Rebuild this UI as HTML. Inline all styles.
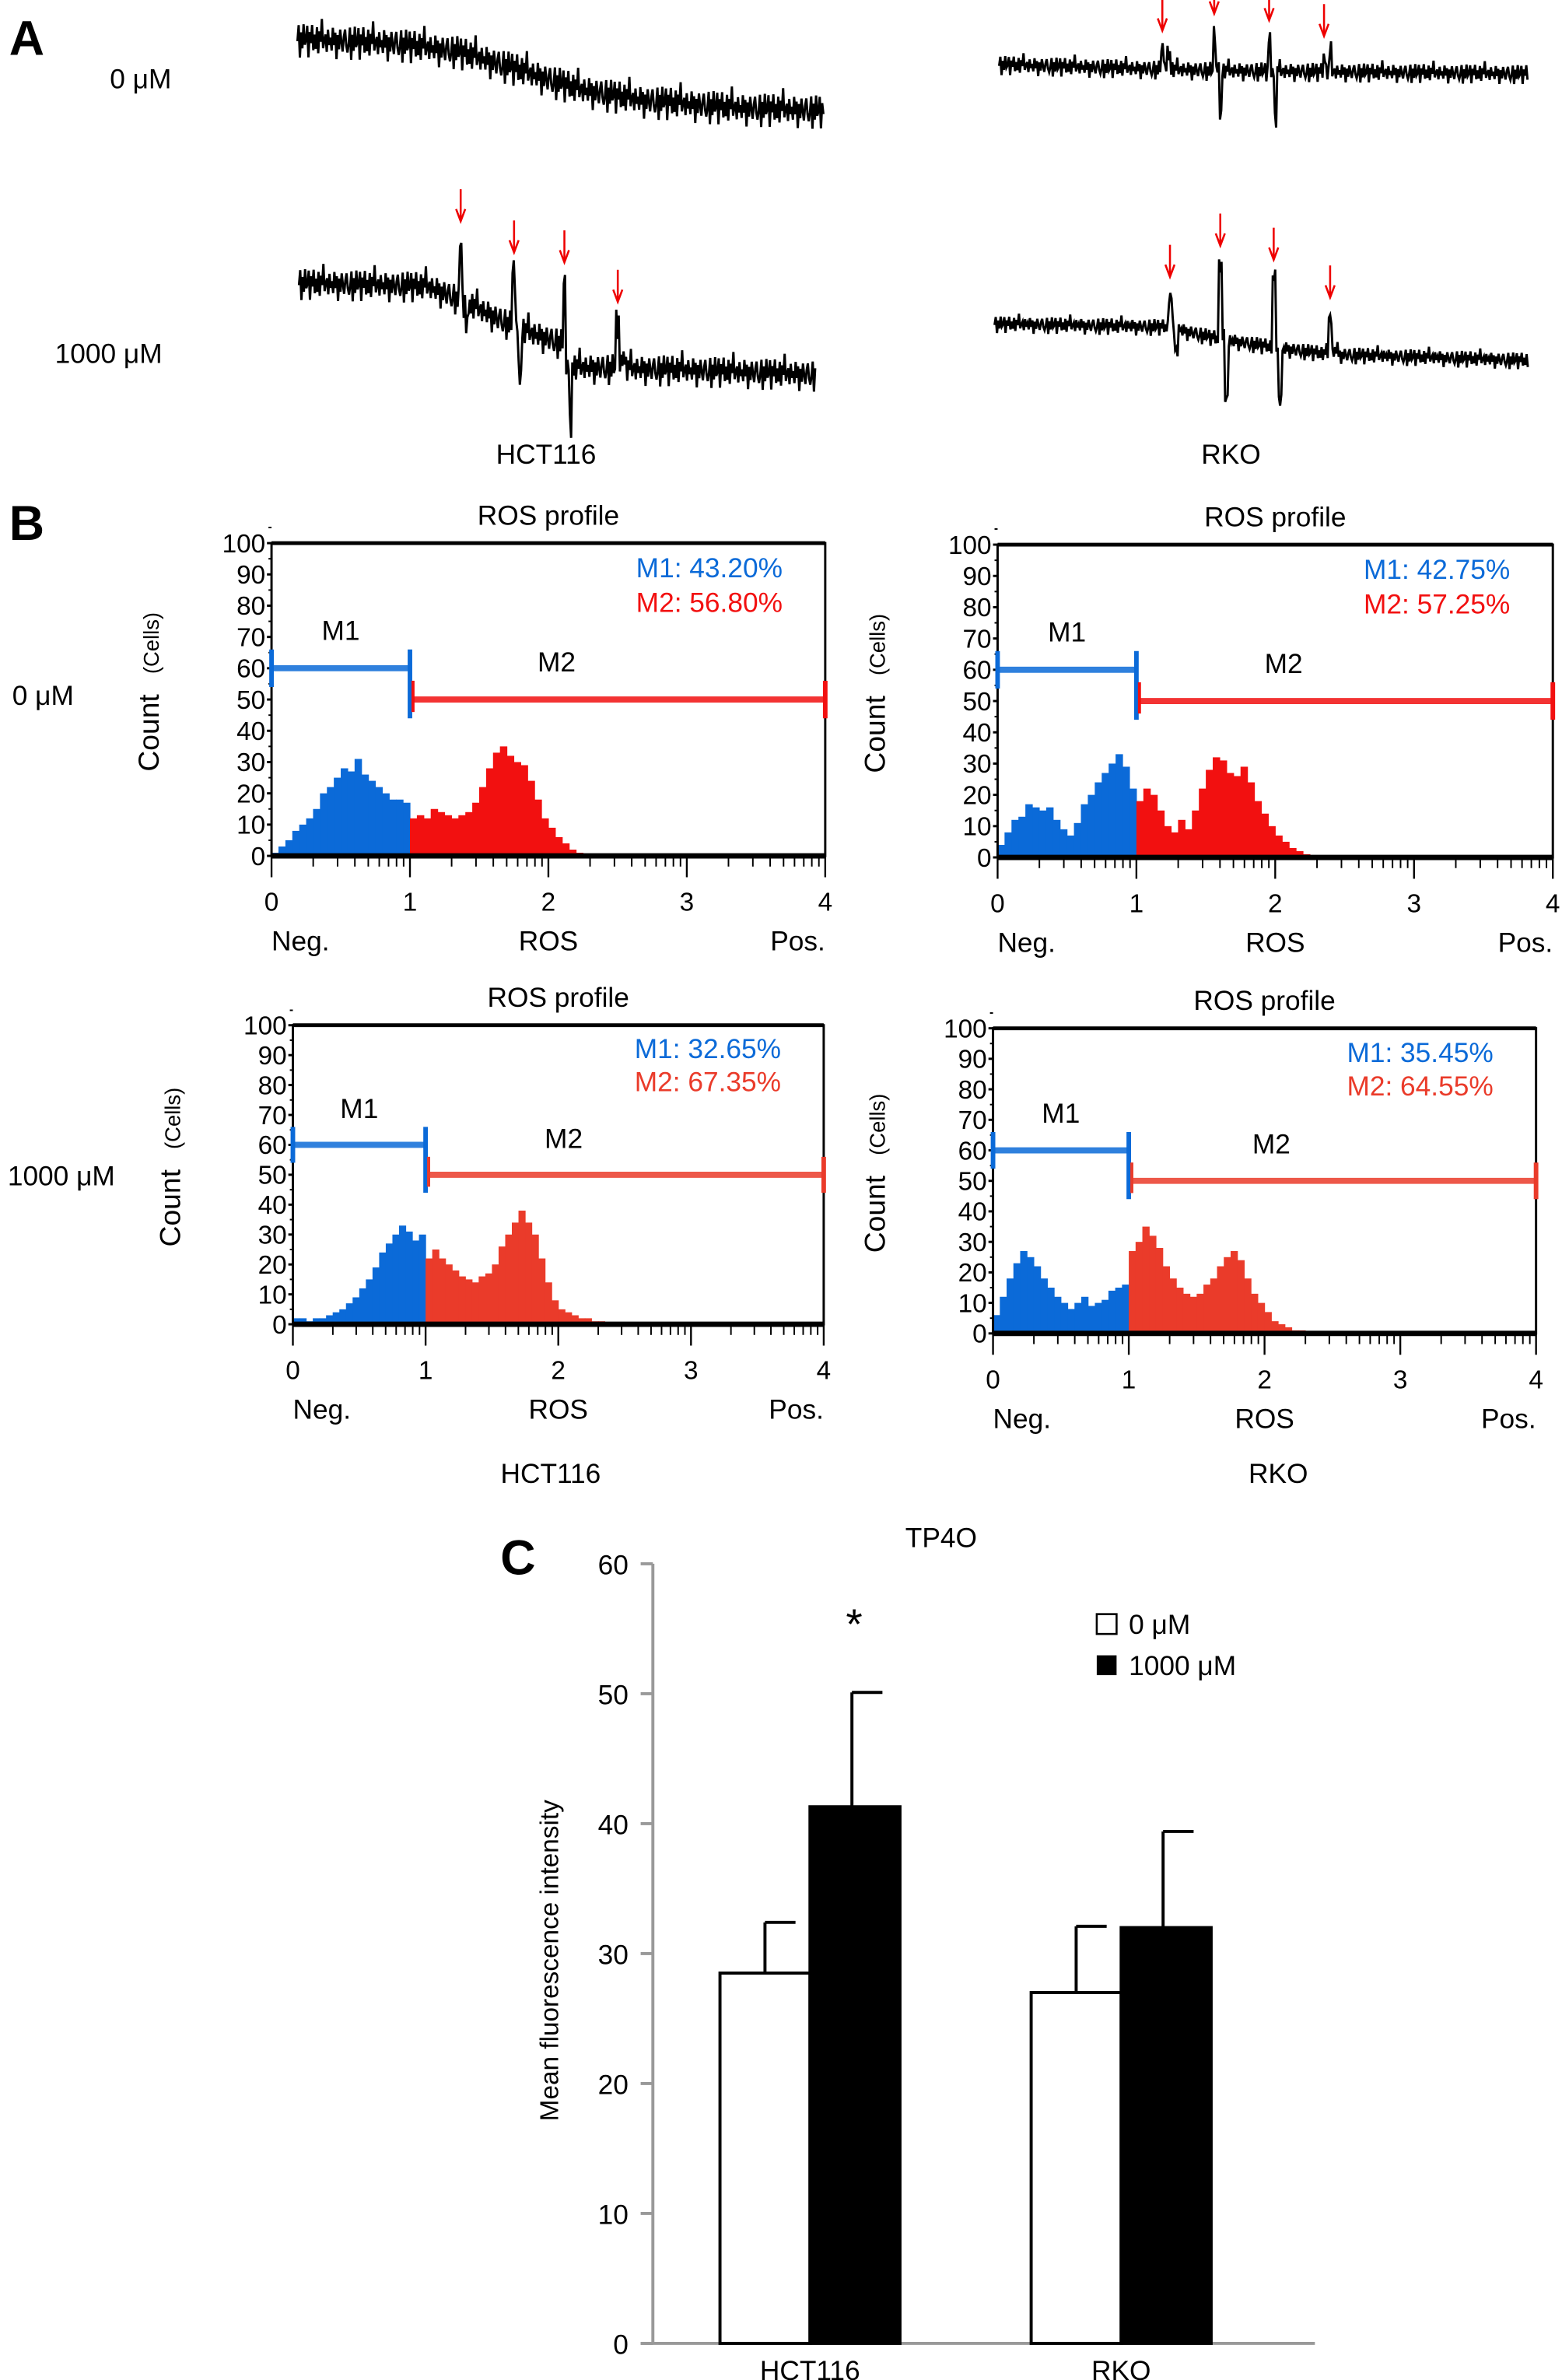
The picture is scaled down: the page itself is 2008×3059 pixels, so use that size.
<!DOCTYPE html>
<html><head><meta charset="utf-8"><style>
html,body{margin:0;padding:0;background:#fff;}
svg{display:block;font-family:"Liberation Sans",sans-serif;}
</style></head><body>
<svg id="fig" width="2008" height="3059" viewBox="0 0 1024 1560" xmlns="http://www.w3.org/2000/svg">
<rect width="1024" height="1560" fill="#fff"/>
<g id="panelA"></g>
<g id="panelB"></g>
<g id="panelC"></g>
</svg>
<script>
// ---------- Panel C data ----------
const cCategories = ["HCT116", "RKO"];
const cSeries0 = [28.5, 27.0];
const cSeries1000 = [41.3, 32.0];
const cErr0 = [32.4, 32.1];
const cErr1000 = [50.1, 39.4];
const cTicks = [0, 10, 20, 30, 40, 50, 60];

// ---------- Panel B data (bin heights, 0.05 step from 0) ----------
const histHctCtrl = [1,3,5,8,10,12,15,20,22,25,28,27,31,26,24,22,20,18,18,17,12,13,12,15,14,13,12,13,14,17,22,28,33,35,32,30,29,24,18,12,9,6,4,2,1,0.5];
const histRkoCtrl = [4,8,12,13,17,16,15,16,12,9,7,11,17,20,24,27,30,33,29,22,18,22,20,15,10,8,12,9,15,22,28,32,31,27,26,29,24,18,14,10,7,5,3,2,1,0.5];
const histHctTreat = [2,2,1,2,2,3,4,5,7,9,12,15,19,24,27,30,33,31,28,30,22,25,22,20,18,16,15,14,16,17,20,26,30,34,38,34,30,22,14,8,5,4,3,2,2,1,1,0.5,0.5];
const histRkoTreat = [6,12,18,23,27,25,22,18,15,12,10,8,10,12,9,10,11,14,15,16,27,30,35,32,28,22,18,15,13,12,13,16,18,22,25,27,24,18,13,10,7,4,3,2,1,1,0.5];
const bPercents = [["M1: 43.20%","M2: 56.80%"],["M1: 42.75%","M2: 57.25%"],["M1: 32.65%","M2: 67.35%"],["M1: 35.45%","M2: 64.55%"]];
const bYTicks = [0,10,20,30,40,50,60,70,80,90,100];
const bXTicks = [0,1,2,3,4];

// ---------- Panel A data ----------
const noise = [0.2,-0.8,0.9,-0.3,0.6,-1,0.4,0.1,-0.6,0.95,-0.4,0.3,-0.9,0.7,-0.2,0.5,-0.7,1,-0.5,0.15,-0.95,0.45,0.05,-0.35,0.8,-0.6,0.25,-0.1,0.65,-0.85,0.35,-0.45,0.9,-0.25,0.55,-0.75,0.1,0.7,-0.15,-0.55,0.3,0.85];
const traceHctCtrlKnots = [[195,25],[260,28],[300,33],[340,45],[380,58],[420,65],[480,70],[540,72]];
const traceRkoCtrlKnots = [[655,42],[760,45],[800,46],[1002,48]];
const traceHctTreatKnots = [[196,185],[280,187],[300,195],[340,215],[370,225],[372,240],[450,242],[535,245]];
const traceRkoTreatKnots = [[652,212],[765,214],[800,222],[840,228],[872,232],[1002,236]];
const spikesHctCtrl = [];
const spikesRkoCtrl = [[762,12,-10],[796,24,28],[832,20,32],[868,10,-12]];
const spikesHctTreat = [[302,38,18],[337,35,30],[370,40,40],[405,30,-8]];
const spikesRkoTreat = [[767,20,14],[800,48,38],[835,44,34],[872,24,-4]];

const NS = "http://www.w3.org/2000/svg";
function mk(tag, parent, attrs, text){
  const e = document.createElementNS(NS, tag);
  for (const k in attrs) e.setAttribute(k, attrs[k]);
  if (text !== undefined) e.textContent = text;
  parent.appendChild(e);
  return e;
}

// ---------- Panel A ----------
const A = document.getElementById('panelA');
let t = mk('text', A, {x:6, y:36, 'font-size':32, 'font-weight':'bold'}, 'A');


t = mk('text', A, {x:72, y:58, 'font-size':18}, '0 μM');


t = mk('text', A, {x:36, y:238, 'font-size':18}, '1000 μM');


t = mk('text', A, {x:358, y:304, 'font-size':18, 'text-anchor':'middle'}, 'HCT116');


t = mk('text', A, {x:807, y:304, 'font-size':18, 'text-anchor':'middle'}, 'RKO');



function baseAt(knots, x){
  for (let i=0;i<knots.length-1;i++){
    const a=knots[i], b=knots[i+1];
    if (x>=a[0] && x<=b[0]) return a[1]+(b[1]-a[1])*(x-a[0])/(b[0]-a[0]);
  }
  return knots[knots.length-1][1];
}
function trace(knots, spikes, amp, name){
  const x0 = knots[0][0], x1 = knots[knots.length-1][0];
  let d = '', i = 0;
  for (let x=x0; x<=x1; x+=0.8, i++){
    let y = baseAt(knots, x) + noise[i % noise.length]*amp*(0.6+0.4*Math.abs(noise[(i*7+3) % noise.length]));
    for (const s of spikes){
      const dx = x - s[0];
      if (Math.abs(dx) < 1) y -= s[1];
      else if (Math.abs(dx-4) < 1) y += s[2];
    }
    d += (d ? 'L' : 'M') + x.toFixed(1) + ' ' + y.toFixed(1);
  }
  const p = mk('path', A, {d:d, fill:'none', stroke:'#000', 'stroke-width':1.5});
  
  
  for (const s of spikes){
    const top = baseAt(knots, s[0]) - s[1] - 34;
    const ar = mk('g', A, {});
    
    
    mk('line', ar, {x1:s[0], y1:top, x2:s[0], y2:top+20, stroke:'#e00', 'stroke-width':1.3});
    mk('path', ar, {d:`M${s[0]-3} ${top+13} L${s[0]} ${top+21} L${s[0]+3} ${top+13}`, fill:'none', stroke:'#e00', 'stroke-width':1.3});
  }
}
trace(traceHctCtrlKnots, spikesHctCtrl, 14, 'trace-hct116-0um');
trace(traceRkoCtrlKnots, spikesRkoCtrl, 8, 'trace-rko-0um');
trace(traceHctTreatKnots, spikesHctTreat, 13, 'trace-hct116-1000um');
trace(traceRkoTreatKnots, spikesRkoTreat, 7, 'trace-rko-1000um');

// ---------- Panel B ----------
const B = document.getElementById('panelB');
t = mk('text', B, {x:6, y:354, 'font-size':32, 'font-weight':'bold'}, 'B');


t = mk('text', B, {x:8, y:462, 'font-size':18}, '0 μM');


t = mk('text', B, {x:5, y:777, 'font-size':18}, '1000 μM');


t = mk('text', B, {x:361, y:972, 'font-size':18, 'text-anchor':'middle'}, 'HCT116');


t = mk('text', B, {x:838, y:972, 'font-size':18, 'text-anchor':'middle'}, 'RKO');



const BLUE = '#0b6ad8', RED = '#f21010', RED2 = '#ea3b2a';
function hist(data, box, pct, red, name){
  const [x0,x1,yT,yB,ytx] = box;
  const g = mk('g', B, {});
  
  
  const xs = v => x0 + v/4*(x1-x0);
  const ys = c => yB - c/100*(yB-yT);
  t = mk('text', g, {x:(x0+x1)/2, y:yT-12, 'font-size':18, 'text-anchor':'middle'}, 'ROS profile');
  
  
  data.forEach((c,i) => {
    const v = i*0.05;
    const r = mk('rect', g, {x:xs(v), y:ys(c), width:xs(0.05)-xs(0)+0.3, height:yB-ys(c), fill: v < 0.999 ? BLUE : red});
    
    
  });
  mk('rect', g, {x:x0, y:yT, width:x1-x0, height:yB-yT, fill:'none', stroke:'#000', 'stroke-width':1.5});
  mk('line', g, {x1:x0, y1:yT, x2:x1, y2:yT, stroke:'#000', 'stroke-width':2.5});
  mk('line', g, {x1:x0, y1:yB, x2:x1, y2:yB, stroke:'#000', 'stroke-width':3.5});
  bYTicks.forEach(v => {
    mk('line', g, {x1:x0-3, y1:ys(v), x2:x0, y2:ys(v), stroke:'#000', 'stroke-width':1.5});
    mk('line', g, {x1:x0-2, y1:ys(v+5), x2:x0, y2:ys(v+5), stroke:'#000', 'stroke-width':1});
    t = mk('text', g, {x:x0-4, y:ys(v)+6, 'font-size':17, 'text-anchor':'end'}, String(v));
    
    
  });
  bXTicks.forEach(v => {
    mk('line', g, {x1:xs(v), y1:yB, x2:xs(v), y2:yB+14, stroke:'#000', 'stroke-width':1.2});
    if (v < 4) for (let k=2;k<10;k++){
      const xx = xs(v + Math.log10(k));
      mk('line', g, {x1:xx, y1:yB, x2:xx, y2:yB+7, stroke:'#000', 'stroke-width':1});
    }
    t = mk('text', g, {x:xs(v), y:yB+36, 'font-size':17, 'text-anchor':'middle'}, String(v));
    
    
  });
  t = mk('text', g, {x:x0, y:yB+62, 'font-size':18}, 'Neg.');
  
  
  t = mk('text', g, {x:xs(2), y:yB+62, 'font-size':18, 'text-anchor':'middle'}, 'ROS');
  
  
  t = mk('text', g, {x:x1, y:yB+62, 'font-size':18, 'text-anchor':'end'}, 'Pos.');
  
  
  const cyT = (yT+yB)/2 - 5;
  t = mk('text', g, {x:ytx, y:cyT, 'font-size':19, transform:`rotate(-90 ${ytx} ${cyT})`, 'text-anchor':'middle'});
  
  
  t.innerHTML = 'Count <tspan font-size="14" dx="8">(Cells)</tspan>';
  // gates
  mk('line', g, {x1:x0, y1:ys(60), x2:xs(1), y2:ys(60), stroke:BLUE, 'stroke-width':4, opacity:0.85});
  mk('line', g, {x1:x0, y1:ys(54), x2:x0, y2:ys(66), stroke:BLUE, 'stroke-width':3});
  mk('line', g, {x1:xs(1), y1:ys(66), x2:xs(1), y2:ys(44), stroke:BLUE, 'stroke-width':3});
  mk('line', g, {x1:xs(1)+2, y1:ys(50), x2:x1, y2:ys(50), stroke:red, 'stroke-width':4, opacity:0.85});
  mk('line', g, {x1:xs(1)+2, y1:ys(56), x2:xs(1)+2, y2:ys(46), stroke:red, 'stroke-width':2});
  mk('line', g, {x1:x1, y1:ys(56), x2:x1, y2:ys(44), stroke:red, 'stroke-width':3});
  t = mk('text', g, {x:xs(0.5), y:ys(70)+2, 'font-size':18, 'text-anchor':'middle'}, 'M1');
  
  
  t = mk('text', g, {x:xs(2.5)-40, y:ys(60)+2, 'font-size':18, 'text-anchor':'middle'}, 'M2');
  
  
  t = mk('text', g, {x:x1-28, y:ys(90)+2, 'font-size':18, 'text-anchor':'end', fill:BLUE}, pct[0]);
  
  
  t = mk('text', g, {x:x1-28, y:ys(79)+2, 'font-size':18, 'text-anchor':'end', fill:red}, pct[1]);
  
  
}
hist(histHctCtrl, [178,541,356,561,104], bPercents[0], RED, 'histogram-hct116-0um');
hist(histRkoCtrl, [654,1018,357,562,580], bPercents[1], RED, 'histogram-rko-0um');
hist(histHctTreat, [192,540,672,868,118], bPercents[2], RED2, 'histogram-hct116-1000um');
hist(histRkoTreat, [651,1007,674,874,580], bPercents[3], RED2, 'histogram-rko-1000um');

// ---------- Panel C ----------
const C = document.getElementById('panelC');
const cx0 = 428, cx1 = 862, cy0 = 1536, cy60 = 1025;
const cy = v => cy0 - v/60*(cy0-cy60);
const groupStart = [472, 676], barW = 59;
t = mk('text', C, {x:328, y:1032, 'font-size':32, 'font-weight':'bold'}, 'C');


t = mk('text', C, {x:617, y:1014, 'font-size':18, 'text-anchor':'middle'}, 'TP4O');


mk('line', C, {x1:cx0, y1:cy60, x2:cx0, y2:cy0, stroke:'#999', 'stroke-width':2});
mk('line', C, {x1:cx0-8, y1:cy0, x2:cx1, y2:cy0, stroke:'#999', 'stroke-width':2});
cTicks.forEach(v => {
  mk('line', C, {x1:cx0-8, y1:cy(v), x2:cx0, y2:cy(v), stroke:'#999', 'stroke-width':2});
  t = mk('text', C, {x:cx0-16, y:cy(v)+7, 'font-size':18, 'text-anchor':'end'}, String(v));
  
  
});
t = mk('text', C, {x:366, y:1285, 'font-size':17, 'text-anchor':'middle', transform:'rotate(-90 366 1285)'}, 'Mean fluorescence intensity');


cCategories.forEach((c,i) => {
  const gx = groupStart[i];
  [[cSeries0[i], cErr0[i], '#fff', 'bar-' + c.toLowerCase() + '-0um'], [cSeries1000[i], cErr1000[i], '#000', 'bar-' + c.toLowerCase() + '-1000um']].forEach((s,j) => {
    const x = gx + j*barW;
    const ex = x + barW/2 - (j===0 ? 0 : 2);
    const el = mk('line', C, {x1:ex, y1:cy(s[0]), x2:ex, y2:cy(s[1]), stroke:'#000', 'stroke-width':2});
    
    
    mk('line', C, {x1:ex, y1:cy(s[1]), x2:ex+20, y2:cy(s[1]), stroke:'#000', 'stroke-width':2});
    const r = mk('rect', C, {x:x, y:cy(s[0]), width:barW, height:cy0-cy(s[0]), fill:s[2], stroke:'#000', 'stroke-width':2});
    
    
  });
  t = mk('text', C, {x:gx+barW, y:1560, 'font-size':18, 'text-anchor':'middle'}, c);
  
  
});
t = mk('text', C, {x:560, y:1074, 'font-size':28, 'text-anchor':'middle'}, '*');


const lg = mk('g', C, {});


mk('rect', lg, {x:719, y:1058, width:13, height:13, fill:'#fff', stroke:'#000', 'stroke-width':1.3});
t = mk('text', lg, {x:740, y:1071, 'font-size':18}, '0 μM');


mk('rect', lg, {x:719, y:1085, width:13, height:13, fill:'#000'});
t = mk('text', lg, {x:740, y:1098, 'font-size':18}, '1000 μM');


</script>
</body></html>
